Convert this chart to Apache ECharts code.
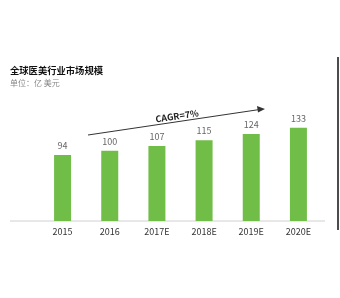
<!DOCTYPE html>
<html><head><meta charset="utf-8">
<script src="https://cdn.jsdelivr.net/npm/echarts@6/dist/echarts.min.js"></script>
<style>html,body{margin:0;padding:0;background:#fff;}#c{width:340px;height:298px;}</style>
</head><body><div id="c"></div>
<script>
const categories = ['2015', '2016', '2017E', '2018E', '2019E', '2020E'];
const values = [94, 100, 107, 115, 124, 133];
const titleText = '全球医美行业市场规模';
const unitText = '单位：亿 美元';
const cagrText = 'CAGR=7%';

const chart = echarts.init(document.getElementById('c'), null, {renderer: 'canvas'});
const font = '"Noto Sans CJK SC", "Open Sans", sans-serif';
chart.setOption({
  animation: false,
  backgroundColor: '#fff',
  grid: {left: 39, right: 18, top: 115.7, bottom: 77, containLabel: false},
  xAxis: {
    type: 'category', data: categories,
    axisLine: {show: false}, axisTick: {show: false},
    axisLabel: {color: '#333', fontSize: 9, fontFamily: font, margin: 6}
  },
  yAxis: {type: 'value', min: 0, max: 150, show: false, splitLine: {show: false}},
  series: [{
    type: 'bar', data: values, barWidth: 17,
    itemStyle: {color: '#70bd47'},
    label: {show: true, position: 'top', distance: 5, color: '#666', fontSize: 9, fontFamily: font}
  }],
  graphic: [
    {type: 'text', left: 10, top: 66, style: {text: titleText, font: 'bold 9.3px ' + font, fill: '#111'}},
    {type: 'text', left: 10, top: 79, style: {text: unitText, font: '8px ' + font, fill: '#888'}},
    {type: 'line', shape: {x1: 10, y1: 221, x2: 325, y2: 221}, style: {stroke: '#d0d0d0', lineWidth: 1}},
    {type: 'line', shape: {x1: 338, y1: 57, x2: 338, y2: 230}, style: {stroke: '#111', lineWidth: 1.5}},
    {type: 'line', shape: {x1: 88, y1: 135, x2: 259, y2: 109.6}, style: {stroke: '#333', lineWidth: 1}},
    {type: 'polygon', shape: {points: [[265, 109], [257, 106], [258, 112.5]]}, style: {fill: '#333'}},
    {type: 'text', x: 177, y: 116, rotation: 8.4 * Math.PI / 180,
     style: {text: cagrText, font: 'bold 9px ' + font, fill: '#222', align: 'center', verticalAlign: 'middle'}}
  ]
});
</script></body></html>
